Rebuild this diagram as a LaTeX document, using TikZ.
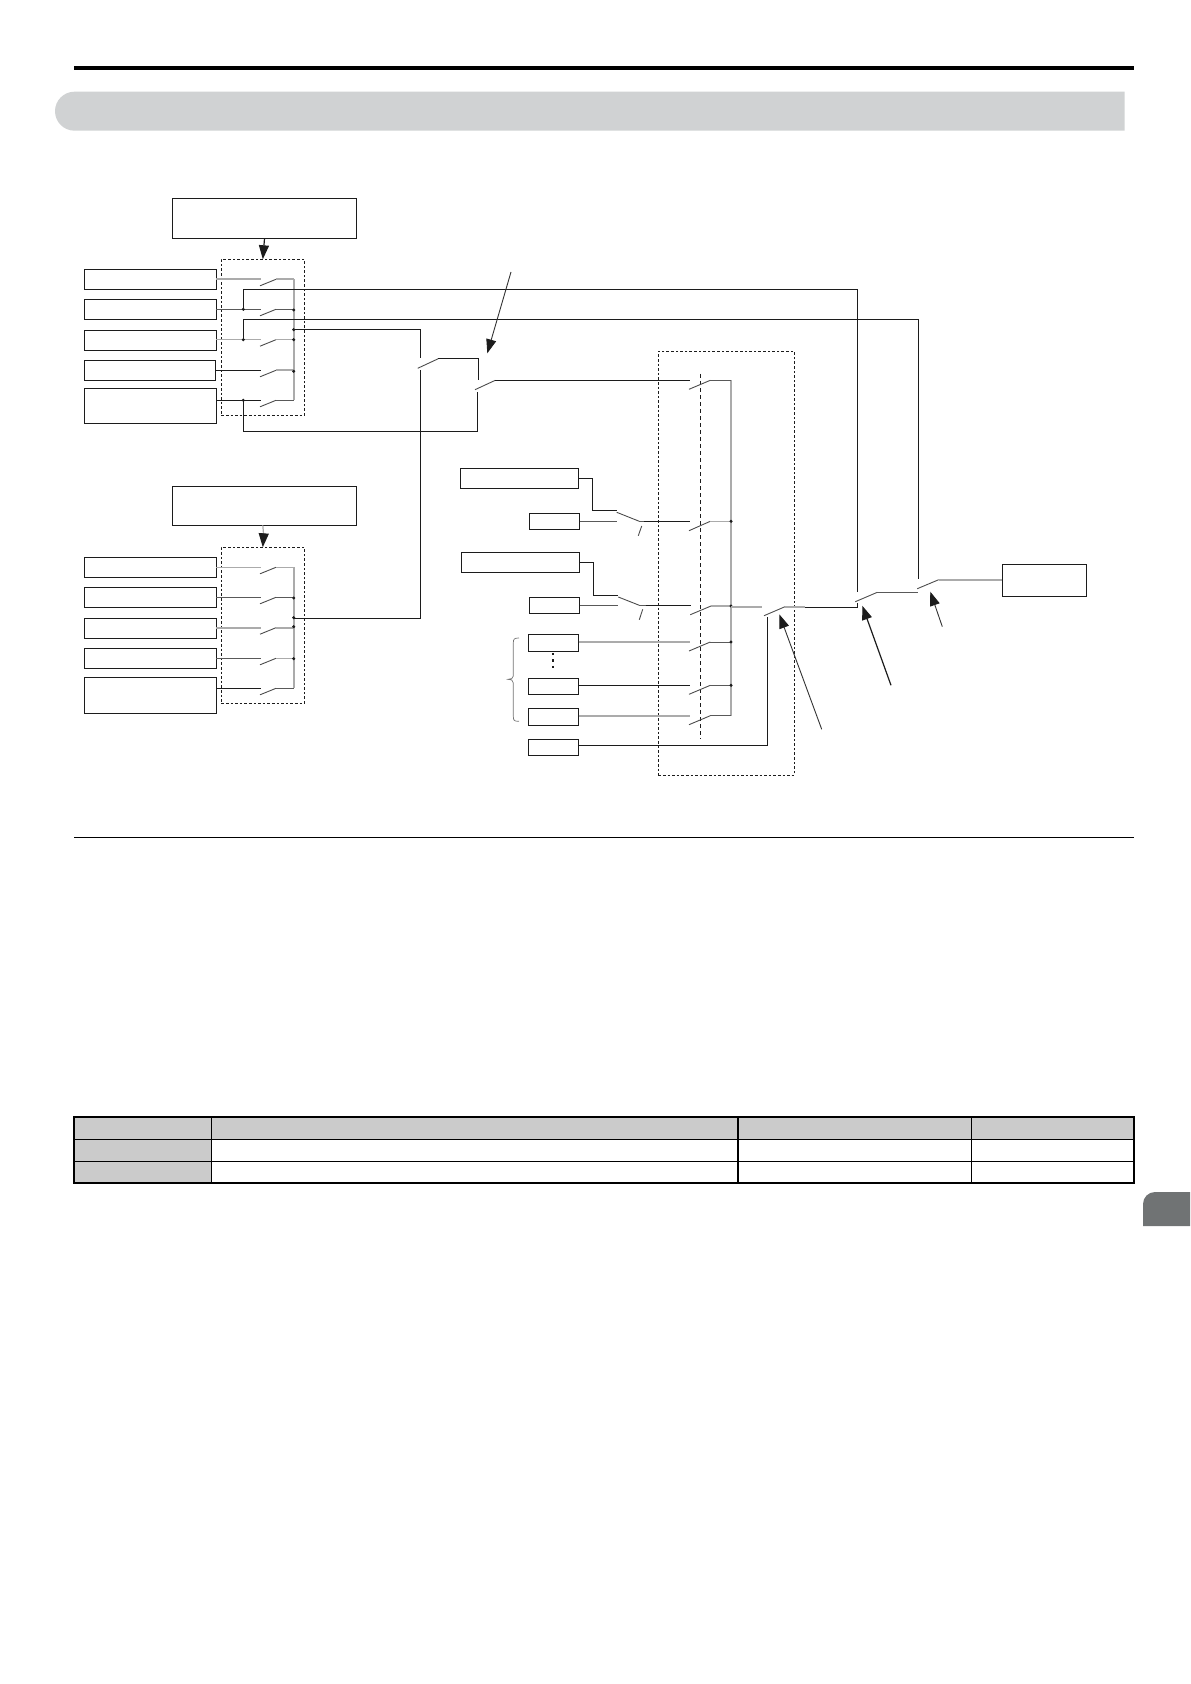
\documentclass[tikz,border=0pt]{standalone}
\usetikzlibrary{arrows.meta}
\definecolor{band}{HTML}{D0D2D3}
\definecolor{cellgray}{HTML}{CBCBCB}
\definecolor{tabgray}{HTML}{707374}
\definecolor{wiregray}{HTML}{ABABAB}
\definecolor{ink}{HTML}{1C1C1C}
\tikzset{
  bx/.style={draw=ink,line width=.62pt,inner sep=0pt,outer sep=0pt,fill=white},
  dbox/.style={draw=ink,line width=.5pt,dash pattern=on 1.3pt off 1pt,inner sep=0pt,outer sep=0pt},
  wire/.style={draw=ink,line width=.55pt},
  gwire/.style={draw=wiregray,line width=.8pt},
  mwire/.style={draw=black!65,line width=.5pt},
  blade/.style={draw=black!70,line width=.45pt},
  jdot/.style={fill=ink},
  arr/.style={draw=black!80,line width=.45pt,-{Triangle[length=7pt,width=5pt,color=ink]}},
  arrb/.style={draw=ink,line width=.6pt,-{Triangle[length=7pt,width=5pt,color=ink]}},
}
% named rectangle from corners, in pixel units
\newcommand{\rectnode}[6]{%
  \pgfmathsetlengthmacro{\rw}{(#5-#3)*0.5pt}%
  \pgfmathsetlengthmacro{\rh}{(#6-#4)*0.5pt}%
  \pgfmathsetmacro{\rcx}{(#3+#5)/2}%
  \pgfmathsetmacro{\rcy}{(#4+#6)/2}%
  \node[#1,minimum width=\rw,minimum height=\rh] (#2) at (\rcx,\rcy) {};}
% named switch blade
\newcommand{\blade}[5]{%
  \coordinate (#1-lo) at (#2,#3);
  \coordinate (#1-hi) at (#4,#5);
  \draw[blade] (#1-lo) -- (#1-hi);}
\newcommand{\jd}[1]{\fill[jdot] (#1) circle[radius=1.7];}
\begin{document}
\begin{tikzpicture}[x=0.5pt,y=-0.5pt]
\path[use as bounding box] (0,0) rectangle (1190,1684);
% ---------- page furniture
\fill[black] (74,66) rectangle (1134,70);
\fill[band] (1124.5,91.7) -- (74.5,91.7) arc[start angle=270,end angle=90,radius=19.5] -- (1124.5,130.7) -- cycle;
\draw[black,line width=.5pt] (74,837) -- (1134,837);
% table
\fill[cellgray] (74,1117) rectangle (1134,1139.3);
\fill[cellgray] (74,1139.3) rectangle (211.3,1182.7);
\draw[black,line width=.6pt] (74,1139.3) -- (1134,1139.3);
\draw[black,line width=.6pt] (74,1161.3) -- (1134,1161.3);
\draw[black,line width=.6pt] (211.3,1117) -- (211.3,1182.7);
\draw[black,line width=.6pt] (738,1117) -- (738,1182.7);
\draw[black,line width=.6pt] (971.3,1117) -- (971.3,1182.7);
\draw[black,line width=1pt] (74,1117) rectangle (1134,1182.7);
% side tab
\fill[tabgray] (1190,1192) -- (1155,1192) arc[start angle=270,end angle=180,radius=12] -- (1143,1226) -- (1190,1226) -- cycle;

% ---------- dashed frames
\rectnode{dbox}{frameA}{221.3}{259.3}{304.3}{415.3}
\rectnode{dbox}{frameB}{221.3}{547.3}{304.3}{703.3}
\rectnode{dbox}{frameC}{658.3}{351.3}{794.3}{775.3}
\coordinate (linkT) at (700.3,374);
\coordinate (linkB) at (700.3,739.3);
\draw[draw=ink,line width=.5pt,dash pattern=on 2.2pt off 1.3pt] (linkT) -- (linkB);

% ---------- boxes
\rectnode{bx}{topA}{172.3}{198.3}{356.7}{238.7}
\rectnode{bx}{a1}{84.3}{269.3}{216.3}{289.3}
\rectnode{bx}{a2}{84.3}{299.3}{216.3}{319.7}
\rectnode{bx}{a3}{84.3}{330.3}{216.3}{350.3}
\rectnode{bx}{a4}{84.3}{360.3}{215.7}{380.3}
\rectnode{bx}{a5}{84.3}{388.3}{216.3}{423.3}
\rectnode{bx}{topB}{172.3}{486.3}{356.7}{525.3}
\rectnode{bx}{b1}{84.3}{557.3}{216.3}{577.3}
\rectnode{bx}{b2}{84.3}{587.3}{216.3}{607.3}
\rectnode{bx}{b3}{84.3}{618.3}{216.3}{638.3}
\rectnode{bx}{b4}{84.3}{648.3}{216.3}{668.3}
\rectnode{bx}{b5}{84.3}{677.3}{216.3}{713.3}
\rectnode{bx}{cA}{460.3}{468.3}{578.7}{488.3}
\rectnode{bx}{cB}{529.3}{513.3}{579.7}{529.3}
\rectnode{bx}{cC}{461.3}{552.3}{579.7}{572.3}
\rectnode{bx}{cD}{529.3}{597.3}{579.7}{613.3}
\rectnode{bx}{cE}{528.3}{634.3}{578.7}{651.3}
\rectnode{bx}{cF}{528.3}{678.3}{578.7}{694.3}
\rectnode{bx}{cG}{528.3}{708.3}{578.7}{725.3}
\rectnode{bx}{cH}{528.3}{739.3}{578.7}{755.3}
\rectnode{bx}{out}{1002.3}{564.3}{1086.7}{596.3}

% ---------- arrows into the frames
\draw[arrb] (topA.south) ++(0,0) -- (frameA.north);
\draw[draw=wiregray,line width=.6pt] (topB.south -| frameB.north) -- (263.7,536);
\draw[arrb] (263.7,534) -- (frameB.north);

% ---------- bank A
\foreach \n/\y in {1/279.3,2/309.3,3/339.7,4/370.3,5/400.3}{
  \pgfmathsetmacro{\yl}{\y+6.5}
  \blade{sa\n}{260}{\yl}{276}{\y}
}
\draw[gwire] (a1.east |- sa1-hi) -- (260.7,279.3);
\draw[mwire] (a2.east |- sa2-hi) -- (260.7,309.3);
\draw[gwire] (a3.east |- sa3-hi) -- (260.7,339.7);
\draw[wire] (a4.east |- sa4-hi) -- (260.7,370.3);
\draw[wire] (a5.east |- sa5-hi) -- (260.7,400.3);
\coordinate (busAt) at (293.7,279.3);
\coordinate (busAb) at (293.7,400.3);
\draw[gwire] (busAt) -- (busAb);
\draw[gwire] (sa1-hi) -- (busAt);
\draw[mwire] (sa2-hi) -- (293.7,309.3);
\draw[gwire] (sa3-hi) -- (293.7,339.7);
\draw[gwire] (sa4-hi) -- (293.7,370.3);
\draw[mwire] (sa5-hi) -- (busAb);
\foreach \y in {310,329.7,339.7,371.3}{\fill[jdot] (293.7,\y) circle[radius=1.7];}

% ---------- bank B
\foreach \n/\y in {1/567.3,2/597.3,3/627.7,4/658.3,5/688.3}{
  \pgfmathsetmacro{\yl}{\y+6.5}
  \blade{sb\n}{260}{\yl}{276}{\y}
}
\draw[gwire] (b1.east |- sb1-hi) -- (260.7,567.3);
\draw[mwire] (b2.east |- sb2-hi) -- (260.7,597.3);
\draw[gwire] (b3.east |- sb3-hi) -- (260.7,627.7);
\draw[mwire] (b4.east |- sb4-hi) -- (260.7,658.3);
\draw[wire] (b5.east |- sb5-hi) -- (260.7,688.3);
\coordinate (busBt) at (293.7,567.3);
\coordinate (busBb) at (293.7,688.3);
\draw[gwire] (busBt) -- (busBb);
\draw[gwire] (sb1-hi) -- (busBt);
\draw[mwire] (sb2-hi) -- (293.7,597.3);
\draw[gwire] (sb3-hi) -- (293.7,627.7);
\draw[gwire] (sb4-hi) -- (293.7,658.3);
\draw[mwire] (sb5-hi) -- (busBb);
\foreach \y in {598,617.7,626.7,658.7}{\fill[jdot] (293.7,\y) circle[radius=1.7];}

% ---------- A/B selector
\blade{sel}{417.7}{368.3}{438.3}{358.7}
\blade{sel2}{475}{389.7}{495.3}{380.3}
\coordinate (busAout) at (293.7,329.7);
\coordinate (busBout) at (293.7,618.3);
\draw[wire] (busAout) -- (420.3,329.7) -- (420.3,358);
\draw[wire] (busBout) -- (420.3,618.3) -- (420.3,370);
\draw[wire] (sel-hi) -- (478.3,358.7) -- (478.3,380);
\coordinate (jA5) at (243.3,400.3);
\draw[wire] (jA5) -- (243.3,431.3) -- (477.3,431.3) -- (477.3,392);
\jd{jA5}

% ---------- centre bank
\foreach \n/\y/\l in {t/380.3/389.3,e/642/651,f/685.3/694.3,g/715.7/724.7}{
  \blade{sc\n}{689}{\l}{710.3}{\y}
}
\blade{scb}{689}{530.7}{710.3}{521.3}
\blade{scd}{690.3}{614.7}{711}{606}
\coordinate (busCt) at (731,380.3);
\coordinate (busCb) at (731,715.7);
\draw[gwire] (busCt) -- (busCb);
\draw[wire] (sel2-hi) -- (690,380.3);
\draw[mwire] (sct-hi) -- (busCt);
\draw[gwire] (scb-hi) -- (731,521.3);
\draw[gwire] (scd-hi) -- (731,606);
\draw[mwire] (sce-hi) -- (731,642);
\draw[mwire] (scf-hi) -- (731,685.3);
\draw[mwire] (scg-hi) -- (busCb);
\foreach \y in {521.3,606,642,685.3}{\fill[jdot] (731,\y) circle[radius=1.7];}

% two-way switches
\blade{twa}{616.7}{512.3}{639.3}{521.3}
\blade{twb}{618.3}{597}{639.3}{605.3}
\draw[blade] (638.3,535.7) -- (641.7,526);
\draw[blade] (639.3,619.7) -- (642.7,609.3);
\draw[wire] (cA.east |- 0,478.3) -- (592.7,478.3) -- (592.7,510.3) -- (616.7,510.3);
\draw[wire] (cC.east |- 0,562.3) -- (593.7,562.3) -- (593.7,595.3) -- (618.3,595.3);
\draw[mwire] (cB.east) -- (616.7,521.3);
\draw[mwire] (cD.east) -- (617.7,605.3);
\draw[mwire] (twa-hi) -- (644.3,521.3);
\draw[wire] (644.3,521.3) -- (690,521.3);
\draw[mwire] (twb-hi) -- (645.7,605.3);
\draw[wire] (645.7,605.3) -- (690.7,605.3);
\draw[gwire] (cE.east |- 0,642) -- (689.7,642);
\draw[wire] (cF.east |- 0,685.3) -- (689.7,685.3);
\draw[gwire] (cG.east |- 0,715.7) -- (689.7,715.7);
% dots between boxes
\draw[ink,line width=1pt,dash pattern=on 1.2pt off 2pt] (553,653) -- (553,668);
% brace
\draw[black!55,line width=.35pt] (519,638) .. controls (514,638) and (513.3,639) .. (513.3,643) -- (513.3,676)
  .. controls (513.3,678.5) and (511,679.3) .. (508,679.3)
  .. controls (511,679.3) and (513.3,680) .. (513.3,683) -- (513.3,716)
  .. controls (513.3,720.5) and (514,721.3) .. (519,721.3);

% ---------- output chain
\blade{s3}{764}{615.7}{785}{606.7}
\blade{s4}{855.3}{601.7}{877.3}{592.3}
\blade{s5}{917.3}{588.7}{938.7}{579.7}
\draw[gwire] (731,606.7) -- (761.7,606.7);
\draw[gwire] (s3-hi) -- (805,606.7);
\draw[wire] (805,607.3) -- (857.3,607.3) -- (857.3,603);
\draw[mwire] (s4-hi) -- (918.3,592.3);
\draw[gwire] (s5-hi) -- (out.west |- s5-hi);
\draw[wire,line width=.45pt] (cH.east |- 0,745.6) -- (767.7,745.6) -- (767.7,617);
% long feedback wires
\coordinate (jA2) at (243.3,309.3);
\coordinate (jA3) at (243.3,339.7);
\draw[wire] (jA2) -- (243.3,289.3) -- (857.3,289.3) -- (857.3,591.5);
\draw[wire] (jA3) -- (243.3,319.3) -- (918.3,319.3) -- (918.3,579);
\jd{jA2}\jd{jA3}

% ---------- annotation arrows
\coordinate (n1) at (511,272);
\coordinate (n2) at (821.7,729.3);
\coordinate (n3) at (891,685.3);
\coordinate (n4) at (942.3,626.7);
\draw[arr] (n1) -- (487.3,353.3);
\draw[arr] (n2) -- (779.3,614.3);
\draw[arrb] (n3) -- (862.3,605.7);
\draw[arr] (n4) -- (930.3,591.7);
\end{tikzpicture}
\end{document}
